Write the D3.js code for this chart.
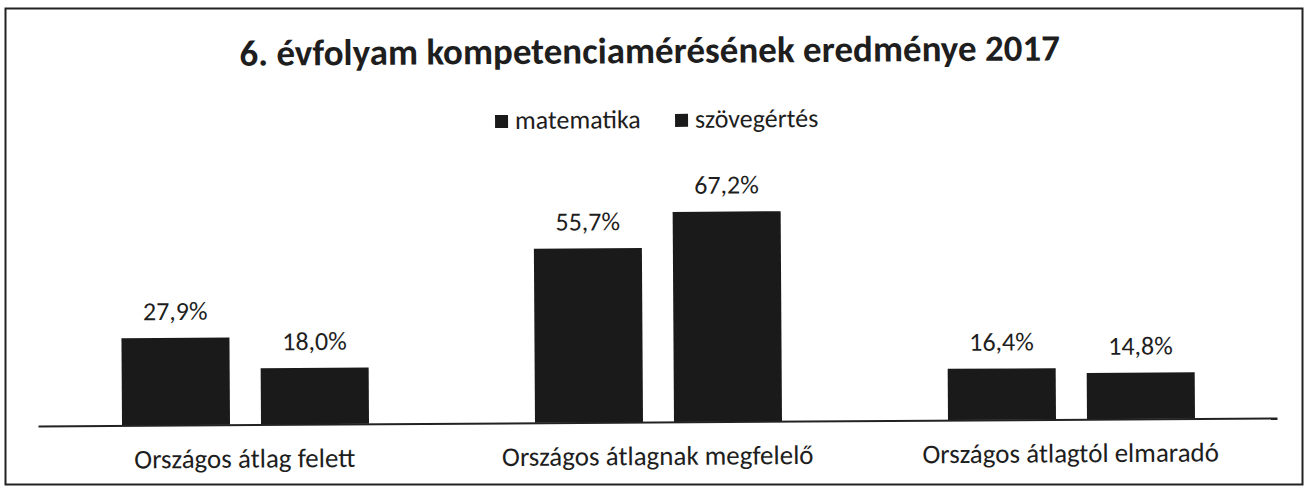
<!DOCTYPE html>
<html>
<head>
<meta charset="utf-8">
<script src="https://cdn.jsdelivr.net/npm/d3@7"></script>
<style>
  body { margin: 0; background: #fff; }
  text { font-family: Carlito, Calibri, Lato, sans-serif; fill: #1e1e1e; }
</style>
</head>
<body>
<svg width="1305" height="493"></svg>
<script>
const categories = ["Országos átlag felett", "Országos átlagnak megfelelő", "Országos átlagtól elmaradó"];
const seriesNames = ["matematika", "szövegértés"];
const matematika = [27.9, 55.7, 16.4];
const szovegertes = [18.0, 67.2, 14.8];

const svg = d3.select("svg");

// frame around the whole chart
svg.append("rect")
    .attr("x", 5.5).attr("y", 8.5)
    .attr("width", 1297).attr("height", 476)
    .attr("fill", "none")
    .attr("stroke", "#222")
    .attr("stroke-width", 2);

// the scanned original sits a touch crooked, so tilt the contents slightly
const chart = svg.append("g")
    .attr("transform", "rotate(-0.37, 657, 422)");

chart.append("text")
    .attr("x", 652).attr("y", 63)
    .attr("text-anchor", "middle")
    .style("font-size", "37px")
    .style("font-weight", "bold")
    .text("6. évfolyam kompetenciamérésének eredménye 2017");

// legend
const legend = chart.append("g");
const legendX = [497, 677];
seriesNames.forEach((name, i) => {
    legend.append("rect")
        .attr("x", legendX[i]).attr("y", 114)
        .attr("width", 13).attr("height", 13)
        .attr("fill", "#1a1a1a");
    legend.append("text")
        .attr("x", legendX[i] + 20).attr("y", 128)
        .style("font-size", "26px")
        .text(name);
});

const baseY = 422;
const x0 = d3.scaleBand().domain(categories).range([38, 1277]).paddingInner(0).paddingOuter(0);
const x1 = d3.scaleBand().domain(seriesNames).range([84, 331]).paddingInner(0.223);
const y = d3.scaleLinear().domain([0, 67.2]).range([baseY, baseY - 210]);

const rows = categories.map((c, i) => ({
    cat: c,
    vals: [
        { key: "matematika", v: matematika[i] },
        { key: "szövegértés", v: szovegertes[i] }
    ]
}));

const groups = chart.append("g").selectAll("g")
    .data(rows)
    .enter()
    .append("g")
    .attr("transform", d => `translate(${x0(d.cat)},0)`);

groups.selectAll("rect")
    .data(d => d.vals)
    .enter()
    .append("rect")
    .attr("x", d => x1(d.key))
    .attr("y", d => y(d.v))
    .attr("width", x1.bandwidth())
    .attr("height", d => baseY - y(d.v))
    .attr("fill", "#1a1a1a");

groups.selectAll("text.val")
    .data(d => d.vals)
    .enter()
    .append("text")
    .attr("class", "val")
    .attr("x", d => x1(d.key) + x1.bandwidth() / 2)
    .attr("y", d => y(d.v) - 18)
    .attr("text-anchor", "middle")
    .style("font-size", "26px")
    .text(d => d.v.toFixed(1).replace(".", ",") + "%");

// x axis: plain baseline plus category labels
const axis = chart.append("g")
    .attr("transform", `translate(0,${baseY})`)
    .call(d3.axisBottom(x0).tickSize(0).tickSizeOuter(0));
axis.select(".domain").attr("stroke", "#222").attr("stroke-width", 2);
axis.selectAll("text")
    .attr("y", 43)
    .attr("dy", 0)
    .style("font-size", "27px")
    .style("font-family", "Carlito, Calibri, Lato, sans-serif")
    .attr("fill", "#1e1e1e");
</script>
</body>
</html>
